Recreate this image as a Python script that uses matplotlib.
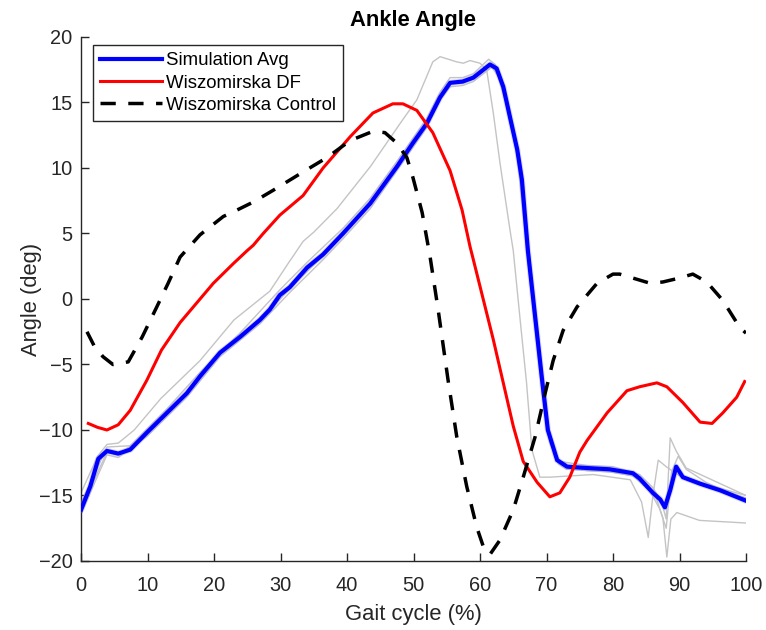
import matplotlib
matplotlib.use("Agg")
import matplotlib.pyplot as plt

plt.rcParams['font.family'] = ['Liberation Sans', 'DejaVu Sans']

# ---------------- data ----------------
sim_x = [0, 1.4, 2.6, 3.9, 5.6, 7.4, 9.9, 12.9, 15.9, 17.9, 20.9, 23.9, 26.9, 28.4,
         29.9, 31.4, 34, 36.4, 39.4, 43.5, 47.5, 49.9, 52, 54, 55.5, 57.4, 59, 60.5,
         61.5, 62.5, 63.5, 64.5, 65.6, 66.3, 67.2, 68.3, 69.3, 70.2, 71.6, 73.1, 76,
         79.5, 83, 84, 86, 87.1, 87.8, 88.6, 89.5, 90.5, 93.1, 96.1, 100]
sim_y = [-16.1, -14.3, -12.2, -11.6, -11.8, -11.5, -10.2, -8.7, -7.2, -5.9, -4.1, -2.9, -1.6, -0.8,
         0.3, 0.9, 2.4, 3.4, 5.0, 7.3, 10.1, 11.9, 13.4, 15.4, 16.5, 16.6, 16.9, 17.5,
         17.9, 17.6, 16.2, 13.9, 11.4, 9.1, 3.7, -1.4, -6.0, -10.0, -12.3, -12.8, -12.9,
         -13.0, -13.3, -13.7, -14.8, -15.3, -15.9, -14.6, -12.8, -13.6, -14.1, -14.6, -15.4]

df_x = [1.1, 2.5, 3.9, 5.6, 7.4, 9.9, 12.1, 14.9, 17.9, 19.9, 22.9, 25, 25.9, 27.4, 29.9,
        33.4, 36.4, 40.5, 43.9, 46.9, 48.4, 50.5, 52.9, 55.5, 57.3, 58.5, 59, 62, 63.5,
        65, 66.5, 68.6, 70.5, 72, 73.5, 75, 76.1, 79.1, 82.1, 84, 86.6, 88.1, 90.5, 93.1,
        94.9, 96.5, 98.6, 99.8]
df_y = [-9.5, -9.8, -10.0, -9.6, -8.5, -6.2, -3.9, -1.8, 0.0, 1.2, 2.7, 3.7, 4.1, 5.0, 6.4,
        7.9, 10.0, 12.4, 14.2, 14.9, 14.9, 14.4, 12.7, 9.8, 6.8, 4.0, 3.0, -3.1, -6.4,
        -9.7, -12.4, -14.0, -15.1, -14.8, -13.6, -11.7, -10.8, -8.7, -7.0, -6.7, -6.4, -6.7, -7.9, -9.4,
        -9.5, -8.7, -7.5, -6.3]

ctrl_x = [0.9, 2, 3.3, 4.8, 7.1, 9.2, 11.4, 13.1, 14.9, 17.9, 21.4, 23.5, 25.9, 28.9, 33.4,
          37, 40.5, 43.9, 45.7, 47.5, 49, 49.9, 51.3, 52.5, 53.7, 55.2, 56.5, 58, 59.5,
          60.5, 61.5, 63, 65, 66.5, 68.3, 69.7, 71, 72.5, 74.6, 77.6, 80, 81, 85.6, 87.5,
          90, 92, 94.1, 96.5, 99.1, 100]
ctrl_y = [-2.5, -3.6, -4.4, -5.0, -4.8, -2.9, -0.6, 1.2, 3.2, 4.9, 6.3, 6.8, 7.4, 8.3, 9.7,
          10.8, 12.1, 12.8, 12.7, 11.9, 10.8, 9.3, 6.6, 3.2, -0.8, -6.2, -10.5, -14.3, -17.4,
          -18.9, -19.5, -18.4, -16.1, -13.6, -10.5, -7.4, -4.7, -2.4, -0.6, 1.2, 1.9, 1.9, 1.2, 1.3,
          1.6, 1.9, 1.3, -0.1, -2.2, -2.6]

# individual simulation trials (grey)
trial1_x = [0, 2.5, 3.9, 5.6, 8, 12, 17.9, 23, 28.4, 31, 33.4, 35, 38.5, 43.5, 48.4, 50.5,
            52.9, 54, 56.5, 57.5, 58.5, 60, 61, 62, 63, 64.5, 65, 66, 67, 67.8, 69, 70.5, 77,
            82.6, 84.3, 85.3, 86, 86.8, 88, 90, 95, 100]
trial1_y = [-14.8, -12.0, -11.1, -11.0, -10.0, -7.6, -4.7, -1.6, 0.6, 2.6, 4.4, 5.1, 6.9, 10.1, 13.7, 15.2,
            18.1, 18.5, 18.1, 18.0, 18.2, 18.0, 17.5, 14.2, 10.4, 5.3, 3.7, -1.4, -6.4, -11.5, -13.6, -13.6, -13.4,
            -13.8, -15.5, -18.2, -15.0, -12.3, -12.8, -13.5, -14.3, -15.0]
trial2_x = [0, 3.9, 5.6, 9.9, 15.9, 20.9, 26.9, 31.4, 36.4, 43.5, 47.5, 52, 54, 55.5, 57.4, 59,
            61.5, 62.5, 64, 66, 67.3, 68.5, 69.5, 70.4, 71.8, 73, 79.5, 83, 85, 86.5, 87.5, 88.1,
            88.7, 89.6, 93, 100]
trial2_y = [-16.0, -11.7, -11.9, -10.3, -7.3, -4.2, -1.7, 0.8, 3.3, 7.2, 10.0, 13.3, 15.5, 16.5, 16.5, 16.8,
            17.8, 17.4, 14.8, 10.0, 3.0, -2.5, -7.0, -10.4, -12.6, -13.0, -13.2, -13.5, -14.3, -15.2, -16.7, -19.7,
            -16.8, -16.3, -16.9, -17.1]
trial3_x = [0, 3.9, 7.4, 12.9, 17.9, 23.9, 29.9, 34, 39.4, 43.5, 47.5, 52, 54, 55.5, 57.4, 59,
            61.3, 62.3, 63.5, 65.6, 67.2, 69.3, 70.5, 72, 76, 80, 84, 86, 87.3, 88, 88.6, 89.5,
            91, 94, 97, 100]
trial3_y = [-15.6, -11.3, -11.2, -8.4, -5.6, -2.6, 0.7, 2.8, 5.4, 7.7, 10.5, 13.8, 15.8, 16.9, 16.9, 17.2,
            18.3, 17.9, 16.0, 11.0, 3.0, -7.0, -11.0, -12.4, -12.7, -12.8, -13.4, -14.4, -15.5, -16.8, -10.6, -11.6,
            -12.9, -13.6, -14.3, -15.0]
trial4_x = [0, 3.9, 5.6, 9.9, 15.9, 20.9, 26.9, 31.4, 36.4, 39.4, 43.5, 47.5, 52, 54, 55.5, 57.4,
            59, 61.8, 63, 64.5, 66.3, 67.5, 68.6, 69.6, 70.6, 72, 76, 80, 83, 85.5, 87, 88,
            88.8, 89.8, 91, 94, 97, 100]
trial4_y = [-16.4, -11.9, -12.1, -10.5, -7.5, -4.4, -1.9, 0.5, 3.0, 4.6, 6.9, 9.8, 13.1, 15.2, 16.2, 16.3,
            16.6, 17.7, 16.8, 14.2, 9.6, 3.0, -2.0, -7.0, -10.8, -12.6, -13.1, -13.2, -13.5, -14.6, -16.0, -17.5,
            -13.2, -12.0, -13.0, -14.0, -14.7, -15.2]

trials = [(trial1_x, trial1_y), (trial2_x, trial2_y), (trial3_x, trial3_y), (trial4_x, trial4_y)]

x_ticks = list(range(0, 101, 10))
y_ticks = list(range(-20, 21, 5))
labels = ['Simulation Avg', 'Wiszomirska DF', 'Wiszomirska Control']

# ---------------- figure ----------------
W, H = 766, 630
fig = plt.figure(figsize=(W / 100, H / 100), dpi=100)
ax = fig.add_axes([81 / W, 1 - 561 / H, 665 / W, 524 / H])

txt = '#262626'
for tx, ty in trials:
    ax.plot(tx, ty, color='#c4c4c4', lw=1.0, zorder=2)

ax.plot(sim_x, sim_y, color='#8c8cff', lw=4.4, alpha=0.35, zorder=3, solid_capstyle='round')
h1, = ax.plot(sim_x, sim_y, color='#0000ff', lw=3.0, zorder=4, label=labels[0])
h2, = ax.plot(df_x, df_y, color='#ff0000', lw=2.2, zorder=5, label=labels[1])
h3, = ax.plot(ctrl_x, ctrl_y, color='black', lw=2.5, ls=(0, (4.4, 3.6)), zorder=6, label=labels[2])

ax.set_xlim(0, 100)
ax.set_ylim(-20, 20)
ax.set_xticks(x_ticks)
ax.set_yticks(y_ticks)

for s in ['top', 'right']:
    ax.spines[s].set_visible(False)
for s in ['left', 'bottom']:
    ax.spines[s].set_color('#262626')
    ax.spines[s].set_linewidth(1.0)

ax.tick_params(axis='both', direction='in', length=6, width=1.0, colors=txt,
               labelsize=14.4, labelcolor=txt)
ax.tick_params(axis='x', pad=11)
ax.tick_params(axis='y', pad=6)

ax.set_xlabel('Gait cycle (%)', fontsize=15.8, color=txt, labelpad=6)
ax.set_ylabel('Angle (deg)', fontsize=15.8, color=txt, labelpad=-2)
ax.set_title('Ankle Angle', fontsize=15.8, fontweight='bold', color='black', pad=8)

leg = ax.legend(handles=[h1, h2, h3], loc='upper left',
                bbox_to_anchor=(12 / 665, 1 - 8 / 524), borderaxespad=0,
                fontsize=13.4, handlelength=3.3, handletextpad=0.2,
                labelspacing=0.27, borderpad=0.4, fancybox=False,
                framealpha=1, edgecolor='#262626')
leg.get_frame().set_linewidth(1.0)
for t in leg.get_texts():
    t.set_color('black')

fig.savefig('out.png', dpi=100)
